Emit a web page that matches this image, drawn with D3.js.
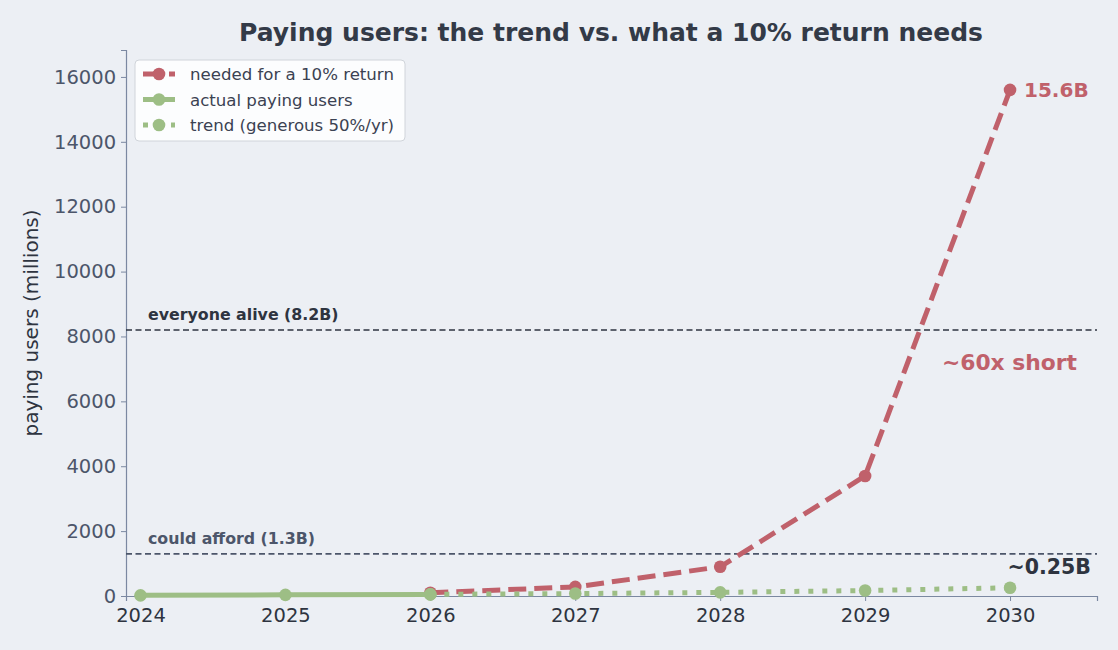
<!DOCTYPE html>
<html>
<head>
<meta charset="utf-8">
<script src="https://cdn.jsdelivr.net/npm/d3@7"></script>
<style>
  body { margin: 0; background: #eceff4; }
  svg { font-family: "DejaVu Sans", sans-serif; }
</style>
</head>
<body>
<svg id="chart"></svg>
<script>
// data (millions of paying users)
const years = [2024, 2025, 2026, 2027, 2028, 2029, 2030];
const actualYears = [2024, 2025, 2026];
const actualUsers = [20, 35, 50];
const trendYears = [2026, 2027, 2028, 2029, 2030];
const trendUsers = [50, 75, 112, 169, 253];
const neededYears = [2026, 2027, 2028, 2029, 2030];
const neededUsers = [100, 280, 900, 3700, 15600];
const yTicks = [0, 2000, 4000, 6000, 8000, 10000, 12000, 14000, 16000];
const refLines = [
    { value: 8200, label: "everyone alive (8.2B)", color: "#2e3440" },
    { value: 1300, label: "could afford (1.3B)", color: "#4c566a" }
];

const width = 1118, height = 650;
const margin = { top: 50, right: 21, bottom: 54, left: 126 };
const red = "#c0616b", green = "#9dbe85", dark = "#2e3440", spine = "#7b88a1";
const redDash = "18,8", dotDash = "5,9";

const svg = d3.select("#chart").attr("width", width).attr("height", height);
svg.append("rect").attr("width", width).attr("height", height).attr("fill", "#eceff4");

const x = d3.scaleLinear().domain([2023.9, 2030.6]).range([margin.left, width - margin.right]);
const y = d3.scaleLinear().domain([0, 16830]).range([height - margin.bottom, margin.top]);

svg.append("text")
    .attr("x", 611).attr("y", 41)
    .attr("text-anchor", "middle")
    .attr("font-size", 25).attr("font-weight", "bold")
    .attr("fill", "#333a47")
    .text("Paying users: the trend vs. what a 10% return needs");

// axes
const xAxis = svg.append("g")
    .attr("transform", `translate(0, ${height - margin.bottom})`)
    .call(d3.axisBottom(x).tickValues(years).tickFormat(d3.format("d")).tickSizeOuter(0).tickSize(5));
xAxis.selectAll("text").attr("font-size", 19.5).attr("fill", dark).attr("dy", "0.9em").style("font-family", "DejaVu Sans");

const yAxis = svg.append("g")
    .attr("transform", `translate(${margin.left}, 0)`)
    .call(d3.axisLeft(y).tickValues(yTicks).tickFormat(d3.format("d")).tickSizeOuter(0).tickSize(5));
yAxis.selectAll("text").attr("font-size", 19.5).attr("fill", "#4c566a").attr("dx", "-0.1em").style("font-family", "DejaVu Sans");

[xAxis, yAxis].forEach(a => {
    a.select(".domain").attr("stroke", spine).attr("stroke-width", 1.2);
    a.selectAll(".tick line").attr("stroke", spine);
});

svg.append("text")
    .attr("transform", `translate(38, ${(margin.top + height - margin.bottom) / 2}) rotate(-90)`)
    .attr("text-anchor", "middle")
    .attr("font-size", 20).attr("fill", dark)
    .text("paying users (millions)");

// reference lines
refLines.forEach(r => {
    svg.append("line")
        .attr("x1", x(2023.9)).attr("x2", x(2030.6))
        .attr("y1", y(r.value)).attr("y2", y(r.value))
        .attr("stroke", r.color).attr("stroke-width", 1.6)
        .attr("stroke-dasharray", "6,3.5");
    svg.append("text")
        .attr("x", 148).attr("y", y(r.value) - 10)
        .attr("font-size", 15.8).attr("font-weight", "bold")
        .attr("fill", r.color)
        .text(r.label);
});

// needed first, greens on top (as in the original)
const line = d3.line().x(d => x(d[0])).y(d => y(d[1]));
const series = [
    { xs: neededYears, ys: neededUsers, color: red, dash: redDash, width: 5 },
    { xs: actualYears, ys: actualUsers, color: green, dash: null, width: 5 },
    { xs: trendYears, ys: trendUsers, color: green, dash: dotDash, width: 5 }
];
series.forEach(s => {
    const pts = s.xs.map((v, i) => [v, s.ys[i]]);
    svg.append("path")
        .attr("d", line(pts))
        .attr("fill", "none")
        .attr("stroke", s.color)
        .attr("stroke-width", s.width)
        .attr("stroke-dasharray", s.dash);
    svg.append("g").selectAll("circle")
        .data(pts).join("circle")
        .attr("cx", d => x(d[0])).attr("cy", d => y(d[1]))
        .attr("r", 6.3).attr("fill", s.color);
});

// annotations
svg.append("text")
    .attr("x", x(2030) + 14).attr("y", y(15600) + 7)
    .attr("font-size", 20).attr("font-weight", "bold").attr("fill", red)
    .text("15.6B");
svg.append("text")
    .attr("x", 942).attr("y", 370)
    .attr("font-size", 21.8).attr("font-weight", "bold").attr("fill", red)
    .text("~60x short");
svg.append("text")
    .attr("x", 1091).attr("y", y(253) - 14)
    .attr("text-anchor", "end")
    .attr("font-size", 20.5).attr("font-weight", "bold").attr("fill", dark)
    .text("~0.25B");

// legend
const legend = svg.append("g").attr("transform", "translate(135, 60)");
legend.append("rect")
    .attr("width", 270).attr("height", 81).attr("rx", 4)
    .attr("fill", "#ffffff").attr("fill-opacity", 0.85)
    .attr("stroke", "#d0d4da");
const legendItems = [
    { label: "needed for a 10% return", color: red, dash: redDash, width: 5 },
    { label: "actual paying users", color: green, dash: null, width: 5 },
    { label: "trend (generous 50%/yr)", color: green, dash: dotDash, width: 5 }
];
legendItems.forEach((d, i) => {
    const gy = 14 + i * 25.5;
    legend.append("line")
        .attr("x1", 8).attr("x2", 40).attr("y1", gy).attr("y2", gy)
        .attr("stroke", d.color).attr("stroke-width", d.width)
        .attr("stroke-dasharray", d.dash);
    legend.append("circle").attr("cx", 24).attr("cy", gy).attr("r", 6.3).attr("fill", d.color);
    legend.append("text")
        .attr("x", 55).attr("y", gy + 6)
        .attr("font-size", 16.6).attr("fill", "#3b4252")
        .text(d.label);
});
</script>
</body>
</html>
